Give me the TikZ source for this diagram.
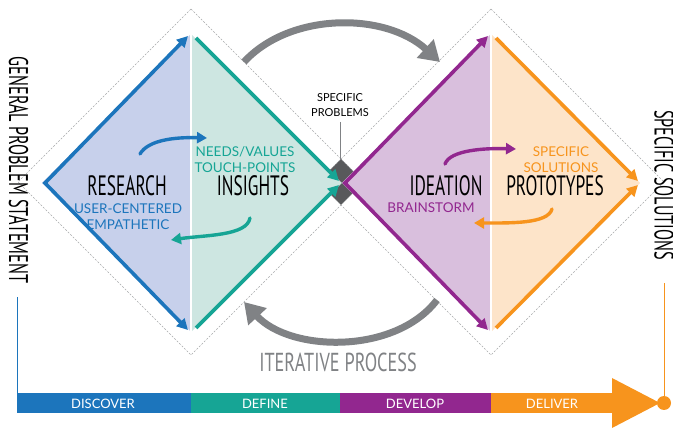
\documentclass[tikz,border=0pt]{standalone}
\usepackage{fontspec}
\usetikzlibrary{arrows.meta}
\newfontfamily\condf[FakeStretch=0.62]{PT Sans}
\newfontfamily\condw[FakeStretch=0.7]{PT Sans}
\newfontfamily\condv[FakeStretch=0.6]{PT Sans}
\newfontfamily\smallf{Lato}
\definecolor{cblue}{HTML}{1C75BC}
\definecolor{fblue}{HTML}{C7D0EB}
\definecolor{cteal}{HTML}{16A595}
\definecolor{fteal}{HTML}{CDE6E1}
\definecolor{cpurp}{HTML}{92278F}
\definecolor{fpurp}{HTML}{D9BFDD}
\definecolor{corng}{HTML}{F7941D}
\definecolor{forng}{HTML}{FDE4C9}
\definecolor{cgray}{HTML}{808285}
\definecolor{cdark}{HTML}{58595B}
\tikzset{
  edge/.style={line width=3.6pt, line join=miter, -{Triangle[length=11pt,width=11pt]}},
  edge2/.style={line width=3.6pt, line join=miter, {Triangle[length=11pt,width=11pt]}-{Triangle[length=11pt,width=11pt]}},
  curv/.style={line width=3.4pt, line cap=round, -{Triangle[length=10pt,width=11pt]}},
  bigarc/.style={line width=7pt, cgray, -{Triangle[length=20pt,width=24pt]}},
  outline/.style={cgray!70, line width=0.5pt, dash pattern=on 2pt off 1.5pt},
  bigl/.style={font=\condf\fontsize{28}{28}\selectfont, text=black, inner sep=0pt},
  vertl/.style={font=\condv\fontsize{27}{27}\selectfont, text=black, inner sep=0pt, rotate=-90},
  subl/.style={font=\smallf\fontsize{13.5}{16}\selectfont, align=center, inner sep=0pt},
  barl/.style={font=\smallf\fontsize{13}{13}\selectfont, text=white, inner sep=0pt},
}
\begin{document}
\begin{tikzpicture}[x=1pt,y=-1pt]
\useasboundingbox (0,0) rectangle (673,430);
% coordinates
\coordinate (LT) at (191,34); \coordinate (LL) at (42,183); \coordinate (LB) at (191,332); \coordinate (C) at (342,183);
\coordinate (RT) at (491,34); \coordinate (RR) at (640,183); \coordinate (RB) at (491,332);
% dark centre region (overlap of the outer diamonds)
\fill[cdark] (341,159) -- (364,182) -- (341,205) -- (318,182) -- cycle;
% dashed outer diamonds
\draw[outline] (191,9) -- (364,182) -- (191,355) -- (18,182) -- cycle;
\draw[outline] (491,9) -- (664,182) -- (491,355) -- (318,182) -- cycle;
% fills
\fill[fblue] (LL) -- (LT) -- (LB) -- cycle;
\fill[fteal] (LT) -- (C) -- (LB) -- cycle;
\fill[fpurp] (C) -- (RT) -- (RB) -- cycle;
\fill[forng] (RT) -- (RR) -- (RB) -- cycle;
\draw[white, line width=2.5pt] (191,30) -- (191,336);
\draw[white, line width=2.5pt] (491,30) -- (491,336);
\draw[cgray, line width=0.6pt] (340,122) -- (340,160);
% edges
\coordinate (b1) at (188,36); \coordinate (b2) at (45,183); \coordinate (b3) at (188,330);
\draw[edge2, cblue] (b1) -- (b2) -- (b3);
\coordinate (t1) at (196,38); \coordinate (t2) at (339,181); \coordinate (t3) at (196,328); \coordinate (t4) at (339,185);
\draw[edge, cteal] (t1) -- (t2);
\draw[edge, cteal] (t3) -- (t4);
\coordinate (p1) at (488,36); \coordinate (p2) at (345,183); \coordinate (p3) at (488,330);
\draw[edge2, cpurp] (p1) -- (p2) -- (p3);
\coordinate (o1) at (496,38); \coordinate (o2) at (638,181); \coordinate (o3) at (496,328); \coordinate (o4) at (638,185);
\draw[edge, corng] (o1) -- (o2);
\draw[edge, corng] (o3) -- (o4);
% inner curved arrows
\coordinate (cb1) at (140,154); \coordinate (cb2) at (207,138);
\draw[curv, cblue] (cb1) .. controls (148,140) and (175,137) .. (cb2);
\coordinate (ct1) at (250,218); \coordinate (ct2) at (171,240);
\draw[curv, cteal] (ct1) .. controls (247,236) and (205,235) .. (ct2);
\coordinate (cp1) at (445,164); \coordinate (cp2) at (516,149);
\draw[curv, cpurp] (cp1) .. controls (450,150) and (485,148) .. (cp2);
\coordinate (co1) at (552,209); \coordinate (co2) at (474,223);
\draw[curv, corng] (co1) .. controls (548,224) and (510,223) .. (co2);
% big gray arcs
\coordinate (a1) at (244,62); \coordinate (a2) at (440,62);
\draw[bigarc] (a1) .. controls (290,12) and (385,12) .. (a2);
\coordinate (a3) at (437,300); \coordinate (a4) at (244,302);
\draw[bigarc] (a3) .. controls (395,355) and (290,352) .. (a4);
% labels
\node[bigl] (research) at (127,186) {RESEARCH};
\node[bigl] (insights) at (253,186) {INSIGHTS};
\node[bigl] (ideation) at (446,186) {IDEATION};
\node[bigl] (proto) at (555,186) {PROTOTYPES};
\node[subl, text=cblue] (uc) at (128,217) {USER-CENTERED\\EMPATHETIC};
\node[subl, text=cteal] (nv) at (245,160) {NEEDS/VALUES\\TOUCH-POINTS};
\node[subl, text=cpurp] (bs) at (431,208) {BRAINSTORM};
\node[subl, text=corng] (ss) at (561,160) {SPECIFIC\\SOLUTIONS};
\node[font=\smallf\fontsize{11}{15}\selectfont, align=center, inner sep=0pt] (sp) at (340,105) {SPECIFIC\\PROBLEMS};
\node[font=\condw\fontsize{26}{26}\selectfont, text=cgray, inner sep=0pt] (iter) at (338,362) {ITERATIVE PROCESS};
% bottom bar
\fill[cblue] (17,393) rectangle (191,413);
\fill[cteal] (191,393) rectangle (340,413);
\fill[cpurp] (340,393) rectangle (491,413);
\fill[corng] (491,393) rectangle (614,413);
\fill[corng] (612,378) -- (660,403) -- (612,428) -- cycle;
\node[barl] (disc) at (103,403.5) {DISCOVER};
\node[barl] (defi) at (265,403.5) {DEFINE};
\node[barl] (deve) at (415,403.5) {DEVELOP};
\node[barl] (deli) at (552,403.5) {DELIVER};
\fill[corng] (664,403) circle (7);
\coordinate (endc) at (664,403);
\draw[corng, line width=0.7pt] (endc) -- (664,283);
\draw[cblue, line width=0.7pt] (17,393) -- (17,297);
% vertical texts
\node[vertl] (gps) at (18.5,170) {GENERAL PROBLEM STATEMENT};
\node[vertl] (sps) at (664,185) {SPECIFIC SOLUTIONS};
\end{tikzpicture}
\end{document}
